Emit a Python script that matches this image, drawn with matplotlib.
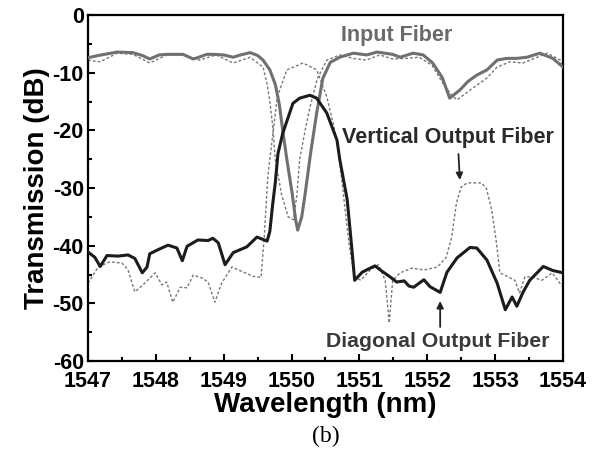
import matplotlib
matplotlib.use("Agg")
import matplotlib.pyplot as plt
from matplotlib.ticker import MultipleLocator

plt.rcParams["font.family"] = ["Liberation Sans", "DejaVu Sans"]
plt.rcParams["axes.unicode_minus"] = False

# ── Data ─────────────────────────────────────────────────────────
# Input fiber (measured, solid gray)
input_wl = [1547.0, 1547.15, 1547.43, 1547.66, 1547.80, 1547.91, 1548.05, 1548.16,
            1548.40, 1548.55, 1548.61, 1548.75, 1548.84, 1549.0, 1549.14, 1549.25,
            1549.39, 1549.50, 1549.58, 1549.68, 1549.76, 1549.82, 1549.87, 1549.93,
            1550.01, 1550.06, 1550.09, 1550.15, 1550.20, 1550.28, 1550.37, 1550.46,
            1550.57, 1550.71, 1550.91, 1551.11, 1551.26, 1551.49, 1551.60, 1551.79,
            1551.94, 1552.08, 1552.22, 1552.33, 1552.48, 1552.60, 1552.73, 1552.88,
            1553.03, 1553.17, 1553.32, 1553.47, 1553.66, 1553.85, 1554.0]
input_db = [-7.4, -7.0, -6.4, -6.5, -7.0, -7.6, -6.9, -6.8,
            -6.8, -7.6, -7.4, -6.8, -6.8, -6.9, -7.3, -6.9,
            -6.5, -7.0, -7.8, -9.5, -12.0, -15.5, -20.0, -25.0,
            -31.0, -35.5, -37.3, -35.0, -31.0, -24.0, -17.0, -11.0,
            -8.2, -7.3, -6.6, -6.9, -6.4, -6.8, -7.3, -6.6,
            -6.9, -8.3, -10.8, -14.4, -13.0, -11.5, -10.4, -9.5,
            -7.8, -7.5, -7.5, -7.3, -6.6, -7.5, -9.0]

# Input fiber companion (dotted)
input_sim_wl = [1547.0, 1547.18, 1547.43, 1547.66, 1547.91, 1548.16, 1548.40, 1548.64,
                1548.89, 1549.14, 1549.39, 1549.52, 1549.58, 1549.64, 1549.68, 1549.72,
                1549.76, 1549.85, 1549.95, 1550.03, 1550.08, 1550.12, 1550.20, 1550.27,
                1550.38, 1550.52, 1550.71, 1550.91, 1551.10, 1551.30, 1551.49, 1551.69,
                1551.88, 1552.07, 1552.23, 1552.36, 1552.44, 1552.63, 1552.88, 1553.03,
                1553.22, 1553.41, 1553.62, 1553.77, 1553.96, 1554.0]
input_sim_db = [-7.8, -8.1, -6.6, -6.8, -8.3, -6.9, -6.9, -7.8,
                -6.9, -8.3, -7.3, -8.5, -9.0, -12.0, -15.0, -19.0,
                -25.0, -31.0, -35.0, -35.5, -31.0, -25.0, -20.0, -16.0,
                -11.0, -7.8, -6.9, -7.5, -7.8, -6.9, -7.6, -7.5,
                -7.3, -8.7, -11.8, -13.9, -14.7, -13.0, -10.9, -9.0,
                -8.1, -8.3, -7.3, -6.6, -7.8, -9.2]

# Vertical output fiber (dotted)
vert_wl = [1547.0, 1547.15, 1547.32, 1547.50, 1547.59, 1547.69, 1547.81, 1547.99,
           1548.09, 1548.16, 1548.25, 1548.36, 1548.46, 1548.55, 1548.68, 1548.77,
           1548.87, 1548.97, 1549.12, 1549.43, 1549.55, 1549.60, 1549.65, 1549.68,
           1549.79, 1549.93, 1550.17, 1550.37, 1550.52, 1550.67, 1550.74, 1550.85,
           1550.93, 1551.02, 1551.16, 1551.28, 1551.38, 1551.44, 1551.49, 1551.60,
           1551.77, 1551.96, 1552.15, 1552.28, 1552.36, 1552.43, 1552.50, 1552.59,
           1552.80, 1552.87, 1552.95, 1553.02, 1553.07, 1553.19, 1553.29, 1553.36,
           1553.44, 1553.54, 1553.69, 1553.84, 1554.0]
vert_db = [-46.5, -43.7, -42.8, -43.0, -44.2, -48.0, -46.8, -44.7,
           -46.8, -46.3, -49.8, -47.2, -47.3, -45.1, -45.6, -46.3,
           -49.8, -46.5, -43.7, -45.3, -45.5, -38.0, -28.0, -25.0,
           -14.2, -9.5, -8.3, -9.5, -14.2, -21.7, -28.6, -40.0,
           -45.4, -46.0, -44.2, -43.3, -46.0, -53.4, -46.0, -44.7,
           -43.9, -44.2, -43.7, -42.0, -38.5, -32.6, -29.8, -29.1,
           -29.1, -30.0, -33.8, -39.5, -44.7, -45.4, -46.0, -48.2,
           -45.4, -45.4, -46.0, -44.7, -47.2]

# Diagonal output fiber (solid black)
diag_wl = [1547.0, 1547.10, 1547.18, 1547.28, 1547.44, 1547.59, 1547.69, 1547.80,
           1547.87, 1547.91, 1548.03, 1548.18, 1548.31, 1548.39, 1548.46, 1548.62,
           1548.77, 1548.84, 1548.92, 1549.02, 1549.14, 1549.34, 1549.49, 1549.64,
           1549.68, 1549.72, 1549.76, 1549.80, 1549.87, 1550.02, 1550.12, 1550.27,
           1550.37, 1550.52, 1550.67, 1550.71, 1550.82, 1550.89, 1550.93, 1551.04,
           1551.14, 1551.23, 1551.33, 1551.44, 1551.55, 1551.66, 1551.73, 1551.80,
           1551.95, 1552.04, 1552.19, 1552.29, 1552.44, 1552.63, 1552.73, 1552.88,
           1553.03, 1553.15, 1553.25, 1553.32, 1553.41, 1553.51, 1553.71, 1553.85,
           1554.0]
diag_db = [-41.1, -42.0, -43.6, -41.7, -41.8, -41.6, -42.2, -44.7,
           -43.7, -41.4, -40.7, -39.9, -40.4, -42.6, -40.1, -39.0,
           -39.1, -38.7, -39.5, -43.3, -41.2, -40.2, -38.5, -39.2,
           -37.5, -33.0, -29.1, -24.0, -20.5, -15.3, -14.4, -13.9,
           -14.4, -17.0, -21.7, -25.0, -32.0, -40.7, -46.0, -44.6,
           -44.0, -43.5, -44.4, -45.3, -46.3, -46.1, -47.0, -47.2,
           -45.9, -47.1, -48.1, -44.6, -42.1, -40.3, -40.4, -42.5,
           -46.5, -51.1, -48.9, -50.5, -48.1, -46.0, -43.6, -44.3,
           -44.7]

GRAY = "#707070"
DOT = "#777777"

fig = plt.figure(figsize=(5.97, 4.59), dpi=100)
ax = fig.add_axes([0.1474, 0.2135, 0.7956, 0.7535])

dots = (0, (2.0, 1.5))
ax.plot(input_sim_wl, input_sim_db, color=DOT, lw=1.0, linestyle=dots, zorder=2)
ax.plot(vert_wl, vert_db, color=DOT, lw=1.0, linestyle=dots, zorder=2)
ax.plot(input_wl, input_db, color=GRAY, lw=2.2, zorder=3)
ax.plot(diag_wl, diag_db, color="#1c1c1c", lw=2.2, zorder=4)

ax.set_xlim(1547, 1554)
ax.set_ylim(-60, 0)
ax.xaxis.set_major_locator(MultipleLocator(1))
ax.xaxis.set_minor_locator(MultipleLocator(0.5))
ax.yaxis.set_major_locator(MultipleLocator(10))
ax.yaxis.set_minor_locator(MultipleLocator(5))
ax.tick_params(which="both", direction="in", top=False, right=False, width=1.5)
ax.tick_params(which="major", length=5, labelsize=15.5)
ax.tick_params(axis="x", which="major", pad=7.5)
ax.tick_params(axis="y", which="major", pad=3)
ax.tick_params(which="minor", length=3)
for lab in ax.get_xticklabels() + ax.get_yticklabels():
    lab.set_fontweight("bold")
for sp in ax.spines.values():
    sp.set_linewidth(1.6)

ax.set_xlabel("Wavelength (nm)", fontsize=20, fontweight="bold", labelpad=0)
ax.set_ylabel("Transmission (dB)", fontsize=20, fontweight="bold", labelpad=2)

# annotations
ax.text(1551.55, -3.6, "Input Fiber", color="#6a6a6a", fontsize=15.5,
        fontweight="bold", ha="center", va="center")
ax.text(1552.31, -21.2, "Vertical Output Fiber", color="#2a2a2a", fontsize=15.5,
        fontweight="bold", ha="center", va="center")
ax.text(1552.16, -56.7, "Diagonal Output Fiber", color="#3a3a3a", fontsize=15.3,
        fontweight="bold", ha="center", va="center")
ax.annotate("", xy=(1552.48, -28.6), xytext=(1552.46, -24.1),
            arrowprops=dict(arrowstyle="-|>", color="#222222", lw=1.3,
                            mutation_scale=10, shrinkA=0, shrinkB=0))
ax.annotate("", xy=(1552.19, -49.6), xytext=(1552.19, -54.1),
            arrowprops=dict(arrowstyle="-|>", color="#222222", lw=1.3,
                            mutation_scale=10, shrinkA=0, shrinkB=0))

fig.text(0.545, 0.05, "(b)", fontsize=17, family="Liberation Serif",
         ha="center", va="center")

fig.savefig("out.png", dpi=100, facecolor="white")
